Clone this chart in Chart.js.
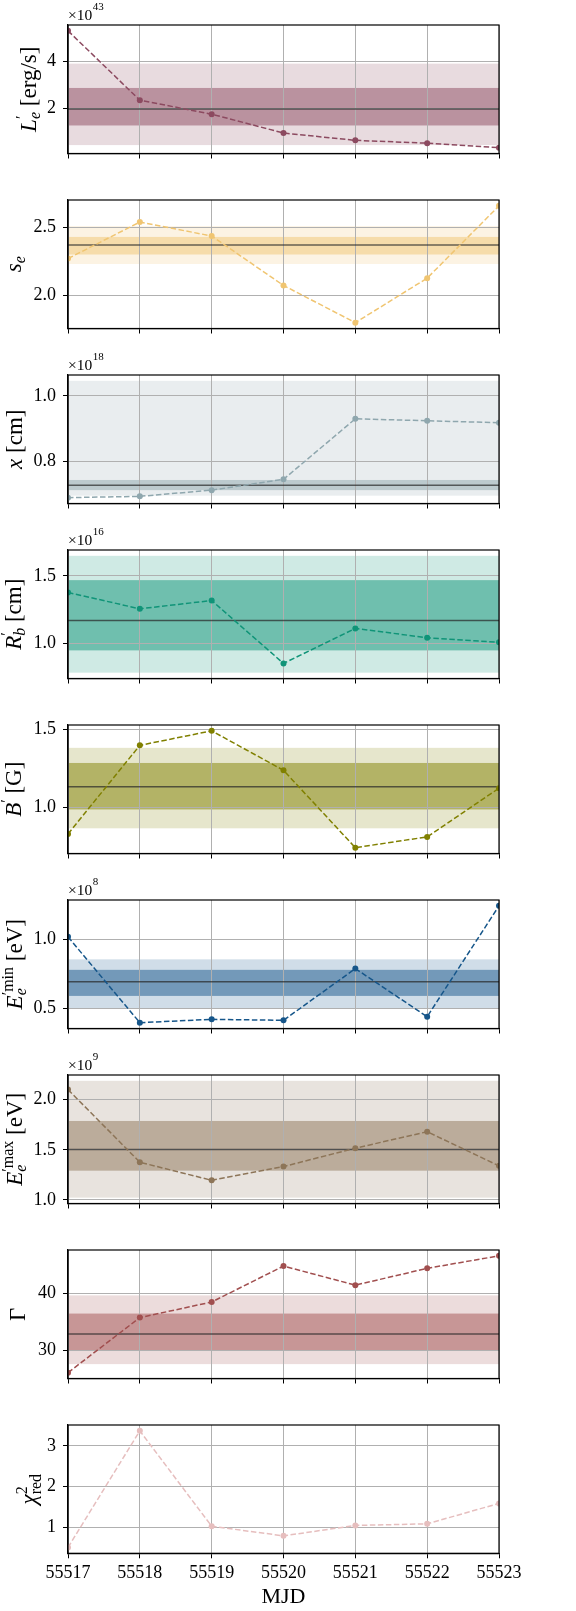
<!DOCTYPE html>
<html lang="en">
<head>
<meta charset="UTF-8">
<title>Fit parameters vs MJD</title>
<script src="https://cdn.jsdelivr.net/npm/chart.js"></script>
<style>
  body, html { margin: 0; padding: 0; background: #fff; }
  #wrap { position: relative; width: 576px; height: 1611px; overflow: hidden; }
  .panel { position: absolute; left: 0; width: 576px; }
</style>
</head>
<body>
<div id="wrap"></div>
<script>
// x axis
const mjd = [55517, 55518, 55519, 55520, 55521, 55522, 55523];

// per-day fit values (scaled by the offset exponent where there is one)
const lumValues   = [5.29, 2.35, 1.76, 0.96, 0.65, 0.53, 0.34];      // x1e43 erg/s
const slopeValues = [2.27, 2.54, 2.437, 2.071, 1.796, 2.125, 2.66];
const distValues  = [0.689, 0.693, 0.712, 0.745, 0.930, 0.924, 0.918]; // x1e18 cm
const radValues   = [1.377, 1.257, 1.318, 0.855, 1.113, 1.044, 1.010]; // x1e16 cm
const fieldValues = [0.828, 1.396, 1.489, 1.236, 0.740, 0.809, 1.121];
const eminValues  = [1.017, 0.395, 0.419, 0.412, 0.787, 0.438, 1.242]; // x1e8 eV
const emaxValues  = [2.10, 1.376, 1.196, 1.333, 1.516, 1.68, 1.34];    // x1e9 eV
const gammaValues = [26.06, 35.74, 38.48, 44.8, 41.45, 44.4, 46.6];
const chiValues   = [0.51, 3.37, 1.03, 0.795, 1.05, 1.09, 1.59];

// combined estimate: mean, 1-sigma band, 2-sigma band
const lumBand   = { mean: 1.98,  s1: [1.28, 2.87],   s2: [0.45, 3.90] };
const slopeBand = { mean: 2.37,  s1: [2.30, 2.43],   s2: [2.23, 2.51] };
const distBand  = { mean: 0.727, s1: [0.712, 0.743], s2: [0.695, 1.046] };
const radBand   = { mean: 1.171, s1: [0.951, 1.468], s2: [0.787, 1.647] };
const fieldBand = { mean: 1.131, s1: [0.985, 1.283], s2: [0.864, 1.380] };
const eminBand  = { mean: 0.692, s1: [0.589, 0.778], s2: [0.50, 0.854] };
const emaxBand  = { mean: 1.503, s1: [1.292, 1.787], s2: [1.023, 2.187] };
const gammaBand = { mean: 32.86, s1: [30.0, 36.45],  s2: [27.56, 39.65] };

// y tick values and labels
const lumTicks   = [2, 4],     lumTickLabels   = ['2', '4'];
const slopeTicks = [2.0, 2.5], slopeTickLabels = ['2.0', '2.5'];
const distTicks  = [0.8, 1.0], distTickLabels  = ['0.8', '1.0'];
const radTicks   = [1.0, 1.5], radTickLabels   = ['1.0', '1.5'];
const fieldTicks = [1.0, 1.5], fieldTickLabels = ['1.0', '1.5'];
const eminTicks  = [0.5, 1.0], eminTickLabels  = ['0.5', '1.0'];
const emaxTicks  = [1.0, 1.5, 2.0], emaxTickLabels = ['1.0', '1.5', '2.0'];
const gammaTicks = [30, 40],   gammaTickLabels = ['30', '40'];
const chiTicks   = [1, 2, 3],  chiTickLabels   = ['1', '2', '3'];

const SERIF = '"Liberation Serif", "DejaVu Serif", serif';
Chart.defaults.font.family = SERIF;

// y label pieces: t text, it italic, sz px, dy baseline shift, back = stack on previous piece
const panels = [
  { values: lumValues, band: lumBand, ticks: lumTicks, labels: lumTickLabels, exp: '43',
    color: '#8c4a60', labelX: 36,
    title: [{t:'L',it:1,sz:23},{t:'′',sz:16,dy:-9},{t:'e',it:1,sz:16,dy:3.5,back:1},{t:' [erg/s]',sz:23}] },
  { values: slopeValues, band: slopeBand, ticks: slopeTicks, labels: slopeTickLabels, exp: null,
    color: '#f0c571', labelX: 21,
    title: [{t:'s',it:1,sz:23},{t:'e',it:1,sz:16,dy:3.5}] },
  { values: distValues, band: distBand, ticks: distTicks, labels: distTickLabels, exp: '18',
    color: '#8fa7ae', labelX: 22,
    title: [{t:'x',it:1,sz:23},{t:' [cm]',sz:23}] },
  { values: radValues, band: radBand, ticks: radTicks, labels: radTickLabels, exp: '16',
    color: '#109478', labelX: 21,
    title: [{t:'R',it:1,sz:23},{t:'′',sz:16,dy:-9},{t:'b',it:1,sz:16,dy:3.5,back:1},{t:' [cm]',sz:23}] },
  { values: fieldValues, band: fieldBand, ticks: fieldTicks, labels: fieldTickLabels, exp: null,
    color: '#808000', labelX: 21,
    title: [{t:'B',it:1,sz:23},{t:'′',sz:16,dy:-9},{t:' [G]',sz:23}] },
  { values: eminValues, band: eminBand, ticks: eminTicks, labels: eminTickLabels, exp: '8',
    color: '#16568a', labelX: 22,
    title: [{t:'E',it:1,sz:23},{t:'′min',sz:16,dy:-9},{t:'e',it:1,sz:16,dy:3.5,back:1},{t:' [eV]',sz:23}] },
  { values: emaxValues, band: emaxBand, ticks: emaxTicks, labels: emaxTickLabels, exp: '9',
    color: '#8d7558', labelX: 22,
    title: [{t:'E',it:1,sz:23},{t:'′max',sz:16,dy:-9},{t:'e',it:1,sz:16,dy:3.5,back:1},{t:' [eV]',sz:23}] },
  { values: gammaValues, band: gammaBand, ticks: gammaTicks, labels: gammaTickLabels, exp: null,
    color: '#a14f4f', labelX: 25,
    title: [{t:'Γ',sz:23}] },
  { values: chiValues, band: null, ticks: chiTicks, labels: chiTickLabels, exp: null,
    color: '#e6bebe', labelX: 36,
    title: [{t:'χ',it:1,sz:23},{t:'2',sz:16,dy:-9},{t:'red',sz:16,dy:5,back:1}] }
];

function hexA(hex, a) {
  const n = parseInt(hex.slice(1), 16);
  return `rgba(${n >> 16},${(n >> 8) & 255},${n & 255},${a})`;
}

function fontOf(p) {
  return (p.it ? 'italic ' : '') + p.sz + 'px ' + SERIF;
}

// rotated rich text, centred on (x, y), baseline on x
function drawRich(ctx, parts, x, y) {
  ctx.save();
  let cur = 0, prevStart = 0, prevEnd = 0;
  const placed = [];
  parts.forEach(p => {
    ctx.font = fontOf(p);
    const w = ctx.measureText(p.t).width;
    const start = p.back ? prevStart : cur;
    placed.push({ p, x: start });
    prevStart = start;
    prevEnd = start + w;
    cur = p.back ? Math.max(cur, prevEnd) : prevEnd;
  });
  ctx.translate(x, y);
  ctx.rotate(-Math.PI / 2);
  ctx.fillStyle = '#000';
  ctx.textBaseline = 'alphabetic';
  placed.forEach(o => {
    ctx.font = fontOf(o.p);
    ctx.fillText(o.p.t, o.x - cur / 2, o.p.dy || 0);
  });
  ctx.restore();
}

const bandPlugin = {
  id: 'bands',
  beforeDraw(chart, args, opts) {
    const b = opts.band;
    if (!b) return;
    const { ctx, chartArea: a } = chart;
    const y = chart.scales.y;
    ctx.save();
    ctx.fillStyle = hexA(opts.color, 0.2);
    const t2 = y.getPixelForValue(b.s2[1]), b2 = y.getPixelForValue(b.s2[0]);
    ctx.fillRect(a.left, t2, a.right - a.left, b2 - t2);
    ctx.fillStyle = hexA(opts.color, 0.5);
    const t1 = y.getPixelForValue(b.s1[1]), b1 = y.getPixelForValue(b.s1[0]);
    ctx.fillRect(a.left, t1, a.right - a.left, b1 - t1);
    ctx.restore();
  },
  beforeDatasetsDraw(chart, args, opts) {
    const b = opts.band;
    if (!b) return;
    const { ctx, chartArea: a } = chart;
    const ym = chart.scales.y.getPixelForValue(b.mean);
    ctx.save();
    ctx.strokeStyle = 'rgba(40,40,40,0.7)';
    ctx.lineWidth = 1.5;
    ctx.beginPath();
    ctx.moveTo(a.left, ym);
    ctx.lineTo(a.right, ym);
    ctx.stroke();
    ctx.restore();
  },
  afterDraw(chart, args, opts) {
    const { ctx, chartArea: a } = chart;
    ctx.save();
    ctx.strokeStyle = '#000';
    ctx.lineWidth = 1.2;
    ctx.strokeRect(a.left, a.top, a.right - a.left, a.bottom - a.top);
    if (opts.exp) {
      ctx.fillStyle = '#000';
      ctx.font = '15.5px ' + SERIF;
      ctx.textBaseline = 'alphabetic';
      ctx.fillText('×10', a.left, a.top - 5);
      const w = ctx.measureText('×10').width;
      ctx.font = '11px ' + SERIF;
      ctx.fillText(opts.exp, a.left + w + 0.5, a.top - 15);
    }
    drawRich(ctx, opts.title, opts.labelX, (a.top + a.bottom) / 2);
    ctx.restore();
  }
};

const wrap = document.getElementById('wrap');

panels.forEach((pn, i) => {
  const last = i === panels.length - 1;
  const h = last ? 211 : 175;
  const div = document.createElement('div');
  div.className = 'panel';
  div.style.top = (i * 175) + 'px';
  div.style.height = h + 'px';
  const canvas = document.createElement('canvas');
  canvas.width = 576;
  canvas.height = h;
  div.appendChild(canvas);
  wrap.appendChild(div);

  // matplotlib style 5% margins around data and bands
  let lo = Math.min(...pn.values), hi = Math.max(...pn.values);
  if (pn.band) {
    lo = Math.min(lo, pn.band.s2[0]);
    hi = Math.max(hi, pn.band.s2[1]);
  }
  const pad = (hi - lo) * 0.05;

  new Chart(canvas, {
    type: 'line',
    data: {
      datasets: [{
        data: mjd.map((x, k) => ({ x: x, y: pn.values[k] })),
        borderColor: pn.color,
        backgroundColor: pn.color,
        borderWidth: 1.5,
        borderDash: [5.5, 2.5],
        pointRadius: 3,
        pointBorderWidth: 0,
        pointBackgroundColor: pn.color,
        tension: 0,
        clip: 0
      }]
    },
    options: {
      responsive: false,
      animation: false,
      layout: { padding: { top: 25, right: 77, left: 0, bottom: 0 } },
      plugins: {
        legend: { display: false },
        tooltip: { enabled: false },
        bands: { band: pn.band, color: pn.color, exp: pn.exp, title: pn.title, labelX: pn.labelX }
      },
      scales: {
        x: {
          type: 'linear',
          min: mjd[0],
          max: mjd[mjd.length - 1],
          afterBuildTicks: s => { s.ticks = mjd.map(v => ({ value: v })); },
          afterFit: s => { s.height = last ? 57.7 : 21.5; },
          grid: { color: '#b0b0b0', lineWidth: 1, tickColor: '#000', tickLength: 5 },
          border: { display: true, color: '#000', width: 1.2 },
          ticks: {
            color: '#000',
            font: { family: SERIF, size: 18 },
            padding: 4,
            maxRotation: 0,
            autoSkip: false,
            callback: v => last ? String(v) : ''
          },
          title: {
            display: last,
            text: 'MJD',
            color: '#000',
            font: { family: SERIF, size: 22 },
            padding: { top: 0, bottom: 1 }
          }
        },
        y: {
          type: 'linear',
          min: lo - pad,
          max: hi + pad,
          afterBuildTicks: s => { s.ticks = pn.ticks.map(v => ({ value: v })); },
          afterFit: s => { s.width = 68; },
          grid: { color: '#b0b0b0', lineWidth: 1, tickColor: '#000', tickLength: 5 },
          border: { display: true, color: '#000', width: 1.2 },
          ticks: {
            color: '#000',
            font: { family: SERIF, size: 18 },
            padding: 7,
            callback: v => {
              const k = pn.ticks.findIndex(t => Math.abs(t - v) < 1e-9);
              return k >= 0 ? pn.labels[k] : '';
            }
          }
        }
      }
    },
    plugins: [bandPlugin]
  });
});
</script>
</body>
</html>
